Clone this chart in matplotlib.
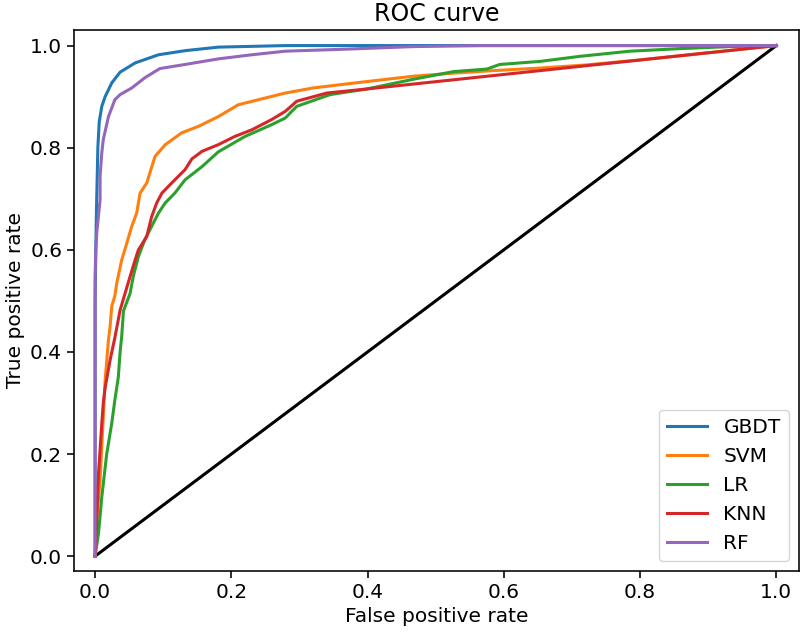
import matplotlib
matplotlib.use("Agg")
import matplotlib.pyplot as plt

# ROC points
fpr_gbdt = [0.0, 0.0, 0.001, 0.002, 0.003, 0.004, 0.006, 0.0098, 0.0147, 0.0245, 0.0367, 0.0587, 0.093, 0.132, 0.181, 0.28, 0.5, 1.0]
tpr_gbdt = [0.0, 0.50, 0.60, 0.68, 0.74, 0.80, 0.85, 0.881, 0.90, 0.927, 0.948, 0.966, 0.982, 0.99, 0.997, 1.0, 1.0, 1.0]

fpr_svm = [0.0, 0.003, 0.0073, 0.0147, 0.0196, 0.022, 0.0245, 0.029, 0.0318, 0.039, 0.0465, 0.0538, 0.061, 0.066,
           0.0758, 0.088, 0.103, 0.127, 0.152, 0.181, 0.21, 0.249, 0.279, 0.32, 0.389, 0.467, 0.526, 0.585, 0.653,
           0.72, 0.8, 0.9, 1.0]
tpr_svm = [0.0, 0.08, 0.149, 0.345, 0.424, 0.45, 0.49, 0.51, 0.535, 0.58, 0.613, 0.646, 0.672, 0.711,
           0.731, 0.783, 0.806, 0.829, 0.842, 0.861, 0.884, 0.897, 0.907, 0.917, 0.928, 0.94, 0.946, 0.951, 0.956,
           0.962, 0.972, 0.986, 1.0]

fpr_lr = [0.0, 0.005, 0.0098, 0.017, 0.0245, 0.029, 0.034, 0.0367, 0.039, 0.0416, 0.0514, 0.056, 0.0636, 0.073,
          0.083, 0.093, 0.103, 0.117, 0.132, 0.157, 0.181, 0.22, 0.259, 0.279, 0.296, 0.345, 0.399, 0.467, 0.526,
          0.575, 0.594, 0.653, 0.712, 0.785, 0.858, 0.932, 1.0]
tpr_lr = [0.0, 0.045, 0.116, 0.2, 0.261, 0.306, 0.35, 0.40, 0.43, 0.48, 0.515, 0.548, 0.587, 0.62,
          0.646, 0.672, 0.692, 0.711, 0.737, 0.763, 0.792, 0.822, 0.845, 0.858, 0.881, 0.904, 0.915, 0.934, 0.949,
          0.954, 0.963, 0.969, 0.979, 0.989, 0.994, 0.998, 1.0]

fpr_knn = [0.0, 0.002, 0.005, 0.0098, 0.012, 0.0147, 0.022, 0.029, 0.0367, 0.044, 0.0514, 0.0587, 0.0636, 0.0758,
           0.083, 0.0905, 0.098, 0.1125, 0.132, 0.142, 0.157, 0.181, 0.205, 0.23, 0.259, 0.279, 0.296, 0.34, 0.399, 1.0]
tpr_knn = [0.0, 0.06, 0.162, 0.26, 0.30, 0.33, 0.384, 0.428, 0.482, 0.515, 0.548, 0.58, 0.60, 0.626,
           0.665, 0.692, 0.711, 0.731, 0.757, 0.778, 0.793, 0.806, 0.822, 0.835, 0.855, 0.871, 0.891, 0.907, 0.915, 1.0]

fpr_rf = [0.0, 0.0, 0.001, 0.0024, 0.0073, 0.0073, 0.0098, 0.012, 0.0196, 0.029, 0.0367, 0.0538, 0.073, 0.095,
          0.132, 0.181, 0.23, 0.279, 0.369, 0.467, 0.565, 1.0]
tpr_rf = [0.0, 0.55, 0.60, 0.633, 0.698, 0.744, 0.79, 0.816, 0.861, 0.894, 0.904, 0.917, 0.937, 0.955,
          0.963, 0.974, 0.982, 0.989, 0.993, 0.998, 1.0, 1.0]

diag = [0, 1]

plt.rcParams["font.size"] = 14.5
plt.rcParams["axes.linewidth"] = 1.15
plt.rcParams["xtick.major.width"] = 1.15
plt.rcParams["ytick.major.width"] = 1.15
plt.rcParams["xtick.major.size"] = 5
plt.rcParams["ytick.major.size"] = 5

fig = plt.figure(figsize=(8, 6.33), dpi=100)
ax = fig.add_axes([0.0925, 0.098, 0.906, 0.855])

lw = 2.2
ax.plot(diag, diag, "k-", lw=lw)
ax.plot(fpr_gbdt, tpr_gbdt, color="C0", lw=lw, label="GBDT")
ax.plot(fpr_svm, tpr_svm, color="C1", lw=lw, label="SVM")
ax.plot(fpr_lr, tpr_lr, color="C2", lw=lw, label="LR")
ax.plot(fpr_knn, tpr_knn, color="C3", lw=lw, label="KNN")
ax.plot(fpr_rf, tpr_rf, color="C4", lw=lw, label="RF")

ax.set_xlim(-0.031, 1.033)
ax.set_ylim(-0.029, 1.031)
ax.set_xlabel("False positive rate")
ax.set_ylabel("True positive rate")
ax.set_title("ROC curve", fontsize=17)
ax.legend(loc="lower right")

fig.savefig("out.png", dpi=100)
